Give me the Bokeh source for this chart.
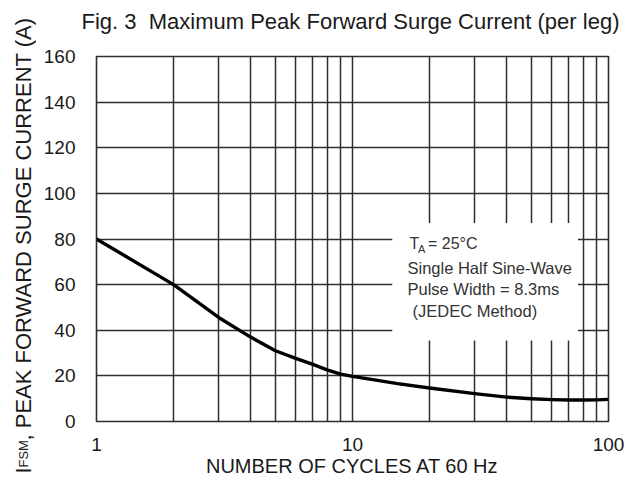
from bokeh.plotting import figure
from bokeh.models import FixedTicker, Label, BoxAnnotation, Range1d, NumeralTickFormatter, Title
from bokeh.layouts import row, column
from bokeh.embed import file_html
from bokeh.resources import INLINE

# ---- data ----
cycles = [1, 2, 3, 4, 5, 6, 7, 8, 9, 10, 15, 20, 30, 40, 50, 60, 70, 80, 90, 100]
surge_current = [80, 60, 45.6, 37, 31, 27.7, 25, 22.5, 20.8, 19.8, 16.6, 14.7,
                 12.2, 10.7, 10.0, 9.6, 9.4, 9.4, 9.5, 9.7]
x_tick_values = [1, 10, 100]
x_grid_values = [1, 2, 3, 4, 5, 6, 7, 8, 9, 10, 20, 30, 40, 50, 60, 70, 80, 90, 100]
y_tick_values = [0, 20, 40, 60, 80, 100, 120, 140, 160]

title_text = "Fig. 3\u00a0\u00a0Maximum Peak Forward Surge Current (per leg)"
x_label_text = "NUMBER OF CYCLES AT 60 Hz"
y_label_main = "I"
y_label_sub = "FSM"
y_label_rest = ", PEAK FORWARD SURGE CURRENT (A)"
note_lines = ["Single Half Sine-Wave", "Pulse Width = 8.3ms", "(JEDEC Method)"]

FONT = "Liberation Sans"
TXT = "#1a1a1a"
GRID = "#2e2e2e"
NOTE = "#333333"

STRIP = 36  # width of the strip holding the rotated y-axis title

# ---- left strip: rotated y-axis title with subscript ----
left = figure(width=STRIP, height=480, x_range=Range1d(0, STRIP), y_range=Range1d(0, 480),
              output_backend="svg", toolbar_location=None, title=None,
              x_axis_location=None, y_axis_location=None,
              min_border=0, min_border_left=0, min_border_right=0,
              min_border_top=0, min_border_bottom=0)
left.outline_line_color = None
left.background_fill_color = "white"
left.border_fill_color = "white"
left.grid.visible = False
left.add_layout(Label(x=22.5, y=7, x_units="screen", y_units="screen", text=y_label_main,
                      angle=90, angle_units="deg", text_font=FONT, text_font_size="22px",
                      text_color=TXT, text_baseline="alphabetic"))
left.add_layout(Label(x=23, y=13, x_units="screen", y_units="screen", text=y_label_sub,
                      angle=90, angle_units="deg", text_font=FONT, text_font_size="13px",
                      text_color=TXT, text_baseline="alphabetic"))
left.add_layout(Label(x=22.5, y=40, x_units="screen", y_units="screen", text=y_label_rest,
                      angle=90, angle_units="deg", text_font=FONT, text_font_size="22px",
                      text_color=TXT, text_baseline="alphabetic"))

# ---- main chart ----
p = figure(width=626 - STRIP, height=480, x_axis_type="log",
           x_range=Range1d(1, 100), y_range=Range1d(0, 160),
           output_backend="svg", toolbar_location=None, title=None,
           min_border_left=96 - STRIP, min_border_right=18,
           min_border_top=56, min_border_bottom=59)
# spacer title nearest the frame, then the chart title above it
p.add_layout(Title(text="\u00a0", text_font_size="10px", standoff=8), "above")
p.add_layout(Title(text=title_text, align="left", offset=-15, standoff=0,
                   vertical_align="top", text_font=FONT, text_font_size="22px",
                   text_font_style="normal", text_color=TXT), "above")

p.background_fill_color = "white"
p.border_fill_color = "white"
p.outline_line_color = GRID
p.outline_line_width = 1.6

p.xaxis.ticker = FixedTicker(ticks=x_tick_values)
p.xaxis.formatter = NumeralTickFormatter(format="0")
p.yaxis.ticker = FixedTicker(ticks=y_tick_values)
p.xgrid.ticker = FixedTicker(ticks=x_grid_values)
p.ygrid.ticker = FixedTicker(ticks=y_tick_values)
for g in (p.xgrid, p.ygrid):
    g.grid_line_color = GRID
    g.grid_line_width = 1.5

for ax in (p.xaxis, p.yaxis):
    ax.axis_line_color = None
    ax.major_tick_line_color = None
    ax.minor_tick_line_color = None
    ax.major_label_text_font = FONT
    ax.major_label_text_font_size = "19px"
    ax.major_label_text_color = TXT
p.xaxis.major_label_standoff = 10
p.yaxis.major_label_standoff = 15

p.xaxis.axis_label = x_label_text
p.xaxis.axis_label_text_font = FONT
p.xaxis.axis_label_text_font_size = "20px"
p.xaxis.axis_label_text_font_style = "normal"
p.xaxis.axis_label_text_color = TXT
p.xaxis.axis_label_standoff = 1

# white box behind the note
p.add_layout(BoxAnnotation(left=14.3, right=76, bottom=35.5, top=87,
                           fill_color="white", fill_alpha=1.0, line_color=None))

p.line(cycles, surge_current, line_color="black", line_width=3.4, line_join="round")

# note text (frame-relative screen positions)
p.add_layout(Label(x=313, y=178, x_units="screen", y_units="screen", text="T",
                   text_font=FONT, text_font_size="16px", text_color=NOTE,
                   text_baseline="middle"))
p.add_layout(Label(x=321.5, y=173, x_units="screen", y_units="screen", text="A",
                   text_font=FONT, text_font_size="11px", text_color=NOTE,
                   text_baseline="middle"))
p.add_layout(Label(x=331.5, y=178, x_units="screen", y_units="screen", text="= 25°C",
                   text_font=FONT, text_font_size="16px", text_color=NOTE,
                   text_baseline="middle"))
for line, lx, ly in zip(note_lines, [311, 311, 316], [154, 133, 111]):
    p.add_layout(Label(x=lx, y=ly, x_units="screen", y_units="screen",
                       text=line, text_font=FONT, text_font_size="16.5px",
                       text_color=NOTE, text_baseline="middle"))

layout = row(left, column(p))
open("out.html", "w").write(file_html(layout, INLINE))
